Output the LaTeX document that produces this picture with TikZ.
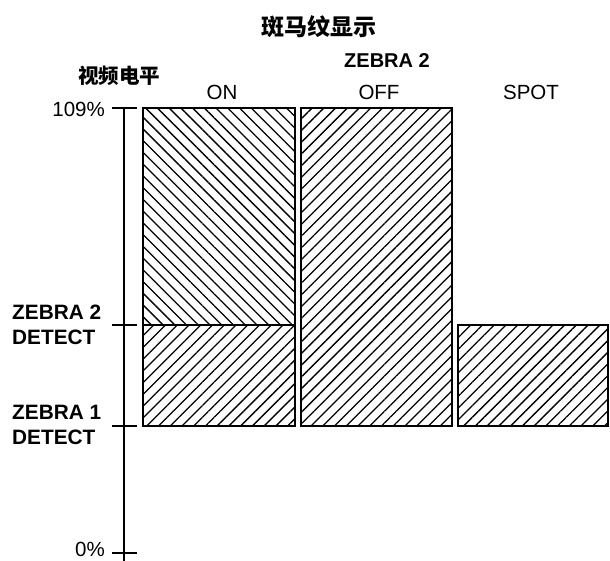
\documentclass[tikz,border=0pt]{standalone}
\usepackage{fontspec}
\setmainfont{Liberation Sans}
\newfontfamily\cjk{Noto Sans CJK SC}
\usetikzlibrary{patterns.meta}
\begin{document}
\begin{tikzpicture}[x=1pt,y=-1pt,
  box/.style={draw=black,line width=2.8pt},
  axis/.style={draw=black,line width=1.1pt},
  hatchne/.style={pattern={Lines[angle=45,distance=8.3pt,line width=1.3pt]}},
  hatchnw/.style={pattern={Lines[angle=-45,distance=8.3pt,line width=1.3pt]}},
  label/.style={font=\fontsize{20.5}{24}\selectfont,inner sep=0pt},
  bold/.style={font=\fontsize{20.8}{24.5}\selectfont\bfseries,inner sep=0pt,align=left},
  title/.style={font=\fontsize{23}{26}\selectfont\cjk\bfseries,inner sep=0pt},
]
\useasboundingbox (0,0) rectangle (610,561);
% titles
\node[title] (ttl) at (319,27) {斑马纹显示};
\node[bold,font=\fontsize{20}{24}\selectfont\bfseries] (zebra) at (387,60.5) {ZEBRA 2};
\node[title,font=\fontsize{20.5}{24}\selectfont\cjk\bfseries] (lvl) at (119,76) {视频电平};
\node[label] (on) at (222,92.5) {ON};
\node[label] (off) at (379,92.5) {OFF};
\node[label] (spot) at (531,92.5) {SPOT};
% axis
\coordinate (atop) at (124,107);
\coordinate (abot) at (124,561);
\draw[axis] (atop) -- (abot);
\foreach \y/\n in {108/hi,325/ztwo,426/zone,553/lo}{
  \coordinate (\n l) at (112,\y);
  \coordinate (\n r) at (137,\y);
  \draw[axis] (\n l) -- (\n r);
}
\node[label,anchor=east] (pct) at (105,109.5) {109\%};
\node[label,anchor=east] (zero) at (105,549) {0\%};
\node[bold,anchor=west] (det2) at (12,325) {ZEBRA 2\\DETECT};
\node[bold,anchor=west] (det1) at (12,425) {ZEBRA 1\\DETECT};
% bars
\coordinate (onA) at (143,108);
\coordinate (onB) at (295,325);
\coordinate (onC) at (143,325);
\coordinate (onD) at (295,426);
\draw[box,hatchnw] (onA) rectangle (onB);
\draw[box,hatchne] (onC) rectangle (onD);
\coordinate (offA) at (301,108);
\coordinate (offB) at (452,426);
\draw[box,hatchne] (offA) rectangle (offB);
\coordinate (spA) at (458,325);
\coordinate (spB) at (608,426);
\draw[box,hatchne] (spA) rectangle (spB);
\end{tikzpicture}
\end{document}
